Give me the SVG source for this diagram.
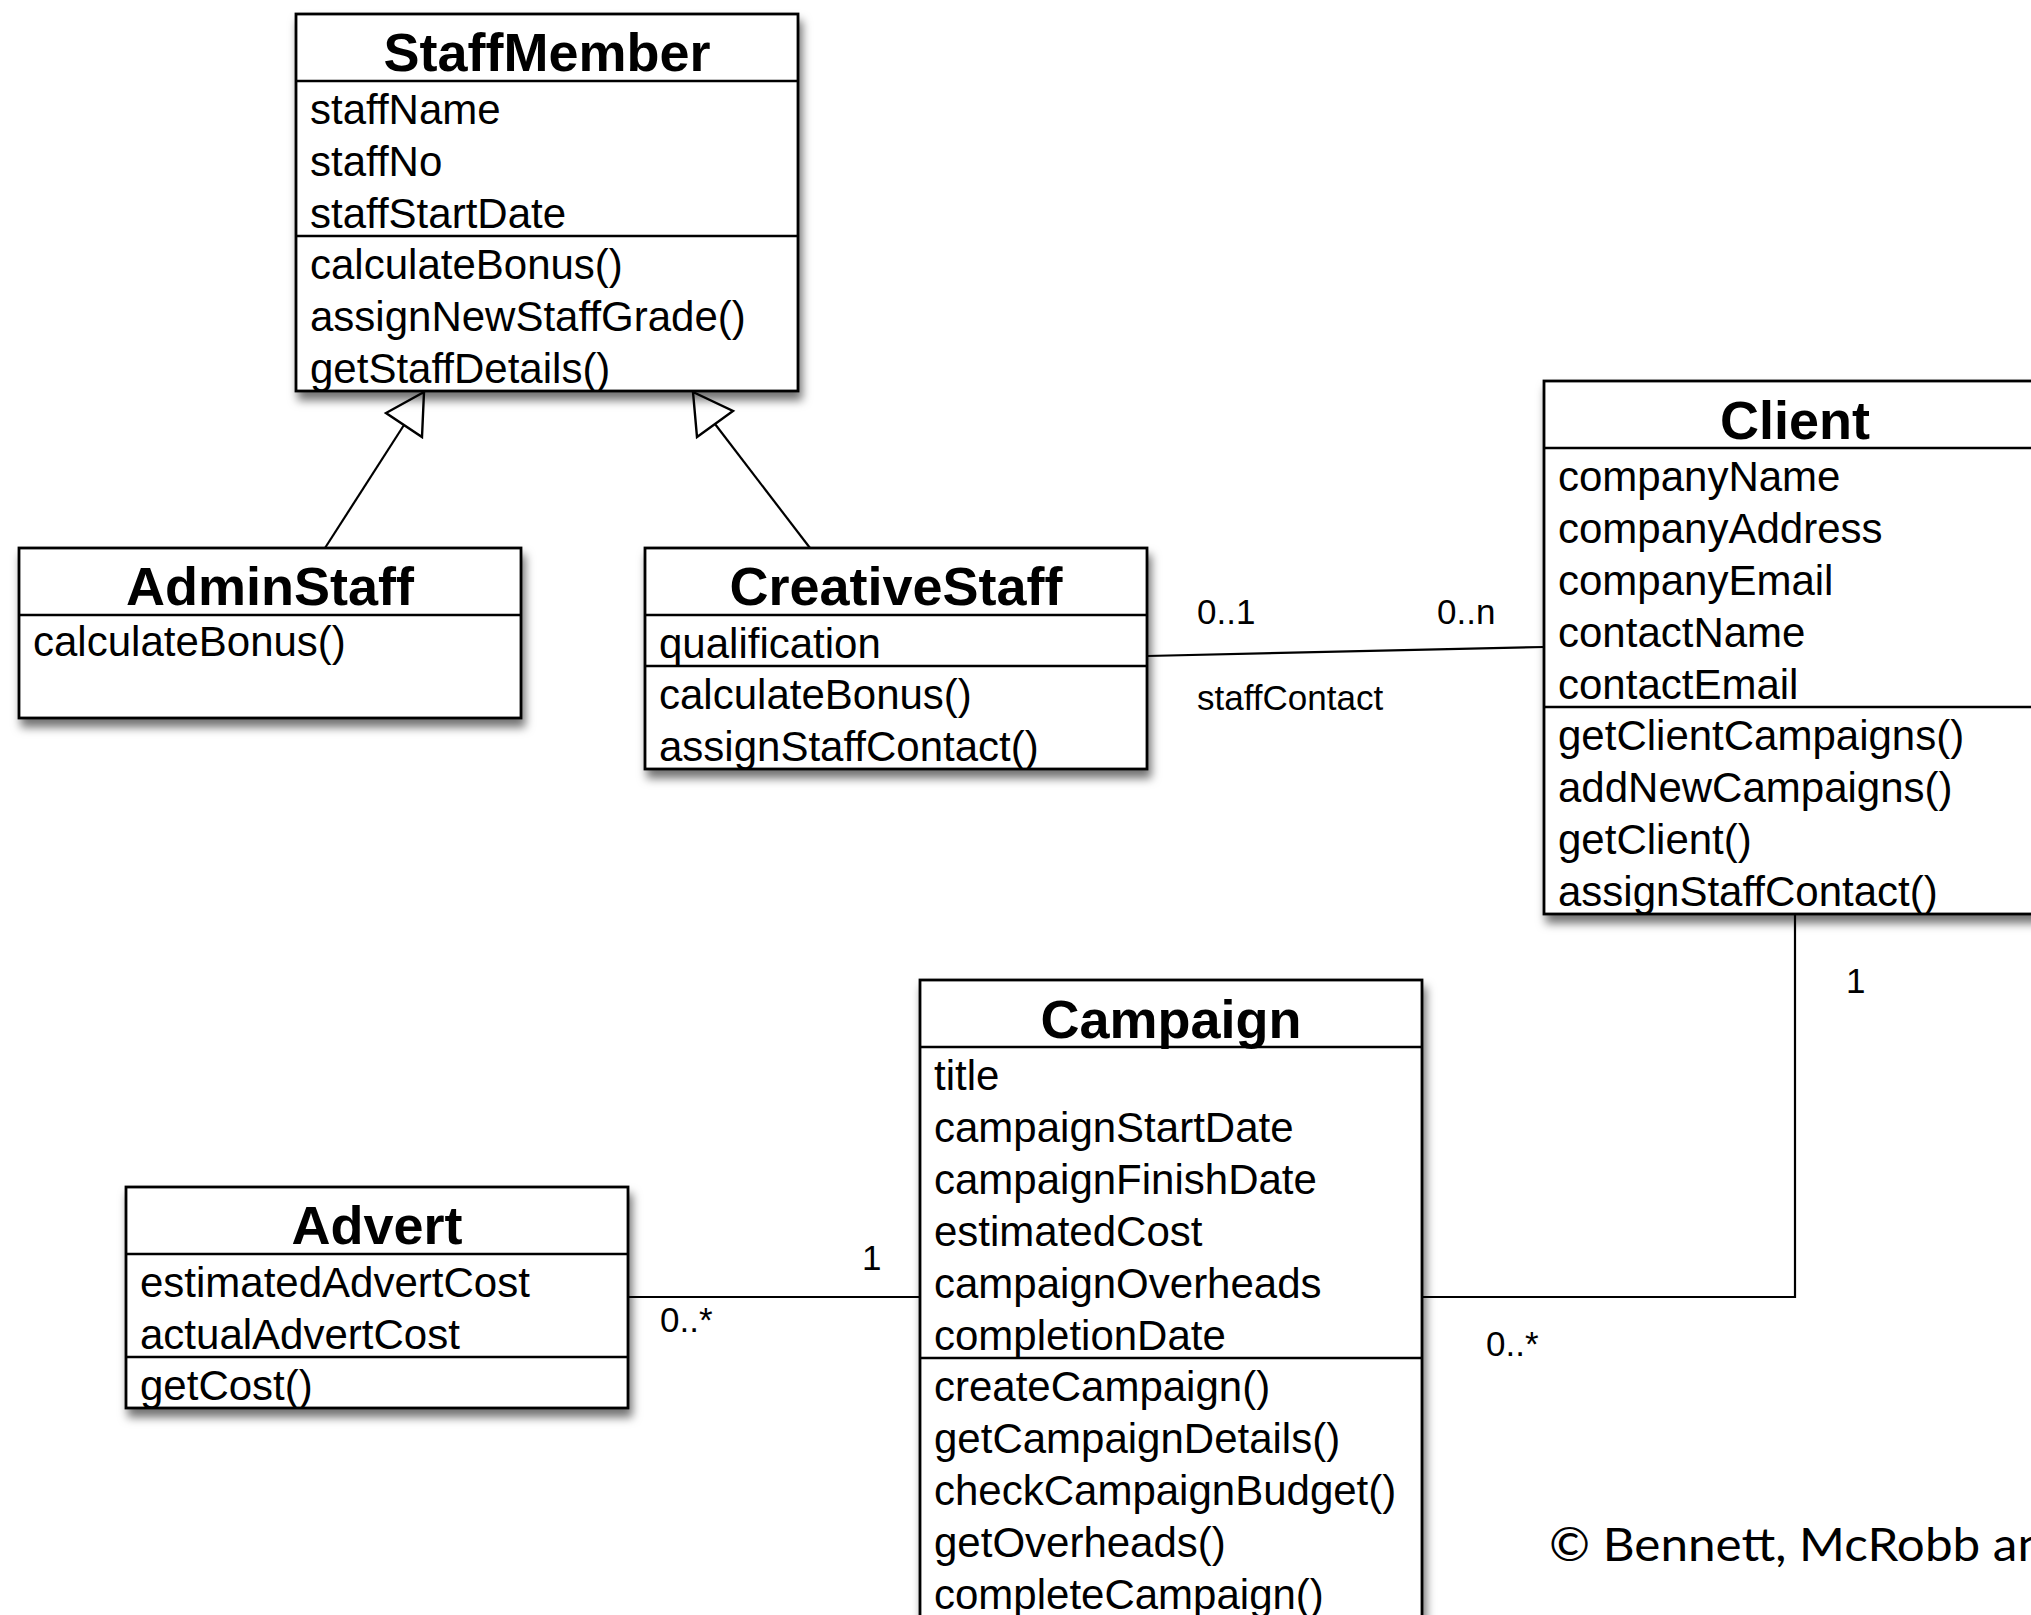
<svg xmlns="http://www.w3.org/2000/svg" width="2031" height="1615" viewBox="0 0 2031 1615">
  <defs>
    <filter id="shadow" x="-10%" y="-10%" width="125%" height="130%">
      <feDropShadow dx="3" dy="8" stdDeviation="5" flood-color="#000" flood-opacity="0.55"/>
    </filter>
    <style>
      .box { fill: #fff; stroke: #000; stroke-width: 2.8; filter: url(#shadow); }
      .sep { stroke: #000; stroke-width: 2.4; fill: none; }
      .title { font-family: "Liberation Sans", Arial, sans-serif; font-weight: bold; font-size: 54px; text-anchor: middle; fill: #000; }
      .item { font-family: "Liberation Sans", Arial, sans-serif; font-size: 42px; fill: #000; }
      .lbl { font-family: "Liberation Sans", Arial, sans-serif; font-size: 35px; fill: #000; }
      .edge { stroke: #000; stroke-width: 2.2; fill: none; }
      .gen { stroke: #000; stroke-width: 2.4; fill: none; stroke-linejoin: miter; }
      .copy { font-family: Lato, "Open Sans", sans-serif; font-size: 46px; fill: #000; }
    </style>
  </defs>
  <rect width="2031" height="1615" fill="#fff"/>

  <!-- StaffMember -->
  <g id="StaffMember">
    <rect class="box" x="296" y="14" width="502" height="377"/>
    <line class="sep" x1="296" y1="81" x2="798" y2="81"/>
    <line class="sep" x1="296" y1="236" x2="798" y2="236"/>
    <text class="title" x="547" y="71">StaffMember</text>
    <text class="item" x="310" y="124">staffName</text>
    <text class="item" x="310" y="176">staffNo</text>
    <text class="item" x="310" y="228">staffStartDate</text>
    <text class="item" x="310" y="279">calculateBonus()</text>
    <text class="item" x="310" y="331">assignNewStaffGrade()</text>
    <text class="item" x="310" y="383">getStaffDetails()</text>
  </g>

  <!-- AdminStaff -->
  <g id="AdminStaff">
    <rect class="box" x="19" y="548" width="502" height="170"/>
    <line class="sep" x1="19" y1="615" x2="521" y2="615"/>
    <text class="title" x="270" y="605">AdminStaff</text>
    <text class="item" x="33" y="656">calculateBonus()</text>
  </g>

  <!-- CreativeStaff -->
  <g id="CreativeStaff">
    <rect class="box" x="645" y="548" width="502" height="221"/>
    <line class="sep" x1="645" y1="615" x2="1147" y2="615"/>
    <line class="sep" x1="645" y1="666" x2="1147" y2="666"/>
    <text class="title" x="896" y="605">CreativeStaff</text>
    <text class="item" x="659" y="658">qualification</text>
    <text class="item" x="659" y="709">calculateBonus()</text>
    <text class="item" x="659" y="761">assignStaffContact()</text>
  </g>

  <!-- Client -->
  <g id="Client">
    <rect class="box" x="1544" y="381" width="502" height="533"/>
    <line class="sep" x1="1544" y1="448" x2="2046" y2="448"/>
    <line class="sep" x1="1544" y1="707" x2="2046" y2="707"/>
    <text class="title" x="1795" y="439">Client</text>
    <text class="item" x="1558" y="491">companyName</text>
    <text class="item" x="1558" y="543">companyAddress</text>
    <text class="item" x="1558" y="595">companyEmail</text>
    <text class="item" x="1558" y="647">contactName</text>
    <text class="item" x="1558" y="699">contactEmail</text>
    <text class="item" x="1558" y="750">getClientCampaigns()</text>
    <text class="item" x="1558" y="802">addNewCampaigns()</text>
    <text class="item" x="1558" y="854">getClient()</text>
    <text class="item" x="1558" y="906">assignStaffContact()</text>
  </g>

  <!-- Campaign -->
  <g id="Campaign">
    <rect class="box" x="920" y="980" width="502" height="650"/>
    <line class="sep" x1="920" y1="1047" x2="1422" y2="1047"/>
    <line class="sep" x1="920" y1="1358" x2="1422" y2="1358"/>
    <text class="title" x="1171" y="1038">Campaign</text>
    <text class="item" x="934" y="1090">title</text>
    <text class="item" x="934" y="1142">campaignStartDate</text>
    <text class="item" x="934" y="1194">campaignFinishDate</text>
    <text class="item" x="934" y="1246">estimatedCost</text>
    <text class="item" x="934" y="1298">campaignOverheads</text>
    <text class="item" x="934" y="1350">completionDate</text>
    <text class="item" x="934" y="1401">createCampaign()</text>
    <text class="item" x="934" y="1453">getCampaignDetails()</text>
    <text class="item" x="934" y="1505">checkCampaignBudget()</text>
    <text class="item" x="934" y="1557">getOverheads()</text>
    <text class="item" x="934" y="1609">completeCampaign()</text>
  </g>

  <!-- Advert -->
  <g id="Advert">
    <rect class="box" x="126" y="1187" width="502" height="221"/>
    <line class="sep" x1="126" y1="1254" x2="628" y2="1254"/>
    <line class="sep" x1="126" y1="1357" x2="628" y2="1357"/>
    <text class="title" x="377" y="1244">Advert</text>
    <text class="item" x="140" y="1297">estimatedAdvertCost</text>
    <text class="item" x="140" y="1349">actualAdvertCost</text>
    <text class="item" x="140" y="1400">getCost()</text>
  </g>

  <!-- connectors -->
  <g id="connectors">
    <!-- generalisation: AdminStaff to StaffMember -->
    <line class="edge" x1="325" y1="548" x2="404" y2="425"/>
    <polygon class="gen" points="424,392 386,413 422,437"/>
    <!-- generalisation: CreativeStaff to StaffMember -->
    <line class="edge" x1="810" y1="548" x2="715" y2="424"/>
    <polygon class="gen" points="693,392 733,411 697,437"/>
    <!-- staffContact association -->
    <line class="edge" x1="1147" y1="656" x2="1544" y2="647"/>
    <!-- Client to Campaign -->
    <polyline class="edge" points="1795,914 1795,1297 1422,1297"/>
    <!-- Advert to Campaign -->
    <line class="edge" x1="628" y1="1297" x2="920" y2="1297"/>
    <text class="lbl" x="1197" y="624">0..1</text>
    <text class="lbl" x="1437" y="624">0..n</text>
    <text class="lbl" x="1197" y="710">staffContact</text>
    <text class="lbl" x="1846" y="993">1</text>
    <text class="lbl" x="1486" y="1356">0..*</text>
    <text class="lbl" x="862" y="1270">1</text>
    <text class="lbl" x="660" y="1332">0..*</text>
  </g>

  <text class="copy" x="1549" y="1561" textLength="496" lengthAdjust="spacingAndGlyphs">© Bennett, McRobb an</text>
</svg>
